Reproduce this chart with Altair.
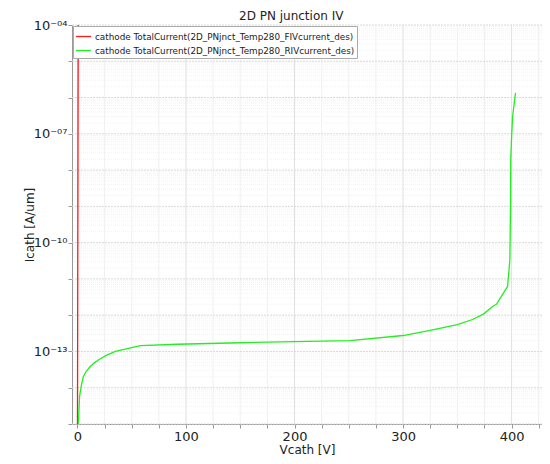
import altair as alt
import pandas as pd

# ---- data ----
fiv_label = "cathode TotalCurrent(2D_PNjnct_Temp280_FIVcurrent_des)"
riv_label = "cathode TotalCurrent(2D_PNjnct_Temp280_RIVcurrent_des)"

fiv_v = [0.0, 0.1, 0.2, 0.3, 0.4, 0.5, 0.6, 0.7, 0.8]
fiv_i = [1e-16, 5e-15, 2e-13, 1e-11, 5e-10, 2e-8, 1e-6, 3e-5, 3e-4]

riv_v = [0.5, 1, 2, 3.5, 5.5, 8, 11, 15, 20, 27, 35, 45, 58, 92, 150, 200, 251,
         300, 325, 350, 364, 374, 382.5, 386, 396.3, 398.4, 399, 399.2, 400, 400.9, 403.6]
riv_i = [5.0e-16, 1.3e-15, 5.8e-15, 1.12e-14, 2.04e-14, 2.8e-14, 3.6e-14, 4.7e-14,
         6.0e-14, 7.9e-14, 1.0e-13, 1.17e-13, 1.45e-13, 1.58e-13, 1.74e-13, 1.86e-13,
         2.0e-13, 2.75e-13, 3.8e-13, 5.5e-13, 7.6e-13, 1.07e-12, 1.74e-12, 2.0e-12,
         6.2e-12, 3.4e-11, 1.0e-9, 1.9e-8, 8.3e-8, 2.95e-7, 1.35e-6]

x_major = [0, 100, 200, 300, 400]
x_ticks = [0, 25, 50, 75, 100, 125, 150, 175, 200, 225, 250, 275, 300, 325, 350, 375, 400, 425]
y_decades = [1e-15, 1e-14, 1e-13, 1e-12, 1e-11, 1e-10, 1e-9, 1e-8, 1e-7, 1e-6, 1e-5, 1e-4]
y_minor = [m * d for d in y_decades[:-1] for m in range(2, 10)]
x_minor = [v for v in x_ticks if v % 100 != 0]

df = pd.DataFrame(
    {"V": fiv_v + riv_v,
     "I": fiv_i + riv_i,
     "series": [fiv_label] * len(fiv_v) + [riv_label] * len(riv_v)}
)

FONT = "DejaVu Sans"
label_expr = (
    "round(log(datum.value)/LN10) == -4 ? '10⁻⁰⁴' : "
    "round(log(datum.value)/LN10) == -7 ? '10⁻⁰⁷' : "
    "round(log(datum.value)/LN10) == -10 ? '10⁻¹⁰' : "
    "round(log(datum.value)/LN10) == -13 ? '10⁻¹³' : ''"
)

x_enc = alt.X(
    "V:Q",
    scale=alt.Scale(domain=[-5, 428], nice=False, zero=False),
    axis=alt.Axis(
        values=x_ticks, labelExpr="datum.value % 100 == 0 ? datum.label : ''",
        format="d", grid=False, title="Vcath [V]", labelFont=FONT, titleFont=FONT,
        labelFontSize=13, titleFontSize=12, titleFontWeight="normal",
        labelColor="#222", titleColor="#222", domainColor="#999", tickColor="#999",
        tickSize=4, labelPadding=2, titlePadding=1, labelOverlap=False,
    ),
)
y_enc = alt.Y(
    "I:Q",
    scale=alt.Scale(type="log", domain=[1e-15, 1e-4], nice=False),
    axis=alt.Axis(
        values=y_decades, labelExpr=label_expr, grid=False, title="Icath [A/um]",
        labelFont=FONT, titleFont=FONT, labelFontSize=13, titleFontSize=12,
        titleFontWeight="normal", labelColor="#222", titleColor="#222",
        domainColor="#999", tickColor="#999", tickSize=4, labelPadding=1,
        titlePadding=-3, labelOverlap=False,
    ),
)

xminor_df = pd.DataFrame({"V": x_minor})
xmajor_df = pd.DataFrame({"V": x_major})
yminor_df = pd.DataFrame({"I": y_minor})
ymajor_df = pd.DataFrame({"I": y_decades})

g_xminor = alt.Chart(xminor_df).mark_rule(color="#f0f0f0", strokeWidth=1).encode(x=x_enc)
g_yminor = alt.Chart(yminor_df).mark_rule(color="#f2f2f2", strokeWidth=1, strokeDash=[1, 1]).encode(y=y_enc)
g_xmajor = alt.Chart(xmajor_df).mark_rule(color="#e0e0e0", strokeWidth=1).encode(x=x_enc)
g_ymajor = alt.Chart(ymajor_df).mark_rule(color="#d9d9d9", strokeWidth=1, strokeDash=[2, 1]).encode(y=y_enc)

lines = alt.Chart(df).mark_line(strokeWidth=1.3, clip=True).encode(
    x=x_enc,
    y=y_enc,
    order=alt.Order("V:Q"),
    color=alt.Color(
        "series:N",
        scale=alt.Scale(domain=[fiv_label, riv_label], range=["#ff1a1a", "#22ee22"]),
        legend=alt.Legend(
            title=None, orient="none", legendX=1, legendY=1, symbolType="stroke",
            symbolSize=225, symbolStrokeWidth=1.3, labelFont=FONT, labelFontSize=8.8,
            labelColor="#222", fillColor="white", strokeColor="#aaaaaa", padding=2,
            rowPadding=0, labelOffset=3, labelLimit=400,
        ),
    ),
)

chart = (
    alt.layer(g_xminor, g_yminor, g_xmajor, g_ymajor, lines)
    .properties(
        width=470, height=399,
        title=alt.TitleParams("2D PN junction IV", font=FONT, fontSize=12,
                              fontWeight="normal", color="#222", anchor="start",
                              frame="group", dx=167, offset=-16, baseline="bottom"),
        autosize=alt.AutoSizeParams(type="none"),
        padding={"left": 64, "top": 17, "right": 0, "bottom": 32},
        background="white",
    )
    .configure_view(stroke=None)
)

chart.save("out.html", embed_options={"renderer": "svg", "actions": False})
